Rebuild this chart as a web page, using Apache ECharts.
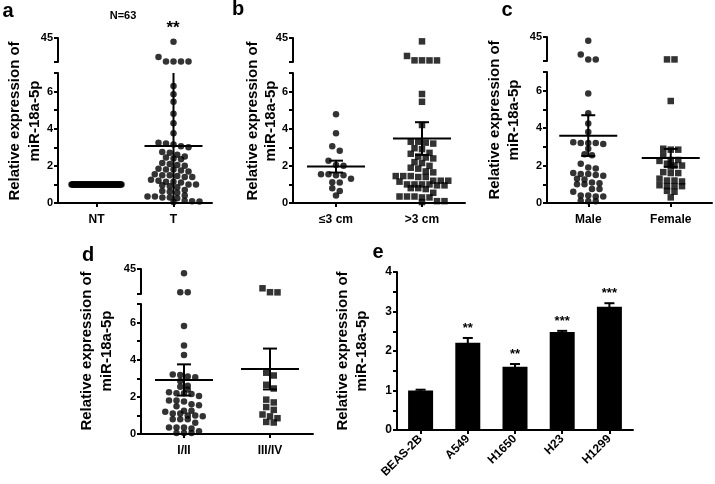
<!DOCTYPE html>
<html><head><meta charset="utf-8">
<script src="https://cdn.jsdelivr.net/npm/echarts@6/dist/echarts.min.js"></script>
<style>html,body{margin:0;padding:0;background:#fff}#c{width:715px;height:484px}</style>
</head><body><div id="c"></div>
<script>
// ---------------- data ----------------
const aCategories = ['NT', 'T'];
const aNT = [1,1,1,1,1,1,1,1,1,1,1,1,1,1,1,1,1,1,1,1,1,1,1,1,1,1,1,1,1,1,1,1,1,1,1,1,1,1,1,1,1,1,1,1,1,1,1,1,1,1,1,1,1,1,1,1,1,1,1,1,1,1,1];
const aT = [39.5, 17.2, 10.9, 10.8, 10.7, 10.8,
  6.3, 5.85, 5.45, 4.8, 4.3, 3.75,
  3.25, 3.2, 3.15, 3.05, 3.0, 2.75, 2.7, 2.6, 2.5, 2.45, 2.4, 2.35, 2.15, 2.1, 2.05, 2.0,
  1.85, 1.8, 1.8, 1.75, 1.7, 1.55, 1.5, 1.5, 1.45, 1.4, 1.4, 1.25, 1.2, 1.15, 1.15, 1.1,
  1.0, 1.0, 0.95, 0.9, 0.85, 0.7, 0.65, 0.6, 0.55, 0.4, 0.35, 0.35, 0.3, 0.3, 0.25, 0.12, 0.1, 0.08, 0.05];
const aMean = [null, 3.07];
const aErr = [null, 4.8];

const bCategories = ['≤3 cm', '>3 cm'];
const bSmall = [4.78, 3.75, 3.05, 2.82, 2.28, 2.05, 2.0, 1.55, 1.55, 1.5, 1.5, 1.3, 1.12, 1.1, 0.8, 0.65, 0.4];
const bLarge = [40.1, 18.8, 12.4, 12.3, 12.3, 12.4, 5.87, 5.45, 4.2, 3.3, 3.25, 3.2, 3.3, 2.95, 2.9, 2.7, 2.65,
  2.5, 2.45, 2.4, 2.2, 2.15, 2.0, 1.9, 1.85, 1.7, 1.65, 1.45, 1.45, 1.4, 1.4, 1.45, 1.2, 1.2, 1.15, 1.2,
  1.0, 1.0, 0.95, 1.0, 0.95, 1.0, 0.8, 0.8, 0.75, 0.55, 0.35, 0.35, 0.3, 0.35, 0.3, 0.1, 0.05, 0.1];
const bMean = [1.96, 3.47];
const bErr = [0.32, 0.88];

const cCategories = ['Male', 'Female'];
const cMale = [39.4, 19.3, 12.3, 12.3, 5.85, 4.8, 4.25, 3.8, 3.2, 3.2, 3.15, 3.2, 3.25, 2.9, 2.6, 2.55, 2.1,
  1.9, 1.85, 1.6, 1.55, 1.55, 1.5, 1.45, 1.3, 1.25, 1.1, 1.05, 1.0, 1.0, 0.75, 0.75, 0.6, 0.4, 0.4, 0.35, 0.35, 0.12, 0.1, 0.1];
const cFemale = [12.3, 12.3, 5.45, 2.9, 2.85, 2.85, 2.55, 2.3, 2.25, 2.3, 2.1, 2.0, 2.0, 1.95, 1.65, 1.6, 1.6,
  1.3, 1.2, 1.2, 1.15, 0.95, 0.9, 0.9, 0.9, 0.65, 0.6, 0.3];
const cMean = [3.6, 2.41];
const cErr = [1.09, 0.48];

const dCategories = ['I/II', 'III/IV'];
const dEarly = [39, 12.5, 12.3, 5.82, 4.76, 4.25, 3.2, 3.18, 3.05, 3.1, 2.85, 2.6, 2.55, 2.4, 2.25, 2.2, 2.2, 2.15,
  2.05, 1.8, 1.8, 1.75, 1.6, 1.55, 1.5, 1.25, 1.25, 1.2, 1.1, 1.1, 1.0, 1.0, 0.95, 0.8, 0.8, 0.8, 0.6,
  0.35, 0.35, 0.35, 0.3, 0.15, 0.05, 0.05, 0.05];
const dLate = [18, 12.5, 12.3, 3.3, 3.15, 2.65, 2.45, 1.85, 1.7, 1.45, 1.3, 1.05, 0.95, 0.85, 0.65, 0.62];
const dMean = [2.91, 3.5];
const dErr = [0.84, 1.1];

const lowerTickLabels = [0, 2, 4, 6];
const upperTickLabels = [45];

const eCategories = ['BEAS-2B', 'A549', 'H1650', 'H23', 'H1299'];
const eValues = [1.0, 2.21, 1.6, 2.48, 3.12];
const eErrors = [0.02, 0.12, 0.07, 0.03, 0.09];
const eSig = ['', '**', '**', '***', '***'];
const eTickLabels = [0, 1, 2, 3, 4];

// ---------------- layout / style ----------------
const FONT = "'Liberation Sans', Arial, sans-serif";
const BLACK = '#000';
const LOW_MAX = 7, UP_MIN = 10, UP_MAX = 45;
const DOT = 6.5, STEP = 7.5;

const panels = [
  {cats: aCategories, groups: [aNT, aT], symbols: ['circle', 'circle'], mean: aMean, err: aErr, maxHalf: [25, 26],
   L: {left: 58, width: 154, upTop: 38, upH: 24, lowTop: 73, lowH: 130}},
  {cats: bCategories, groups: [bSmall, bLarge], symbols: ['circle', 'rect'], mean: bMean, err: bErr, maxHalf: [28, 34],
   L: {left: 293, width: 172, upTop: 38, upH: 24, lowTop: 73, lowH: 130}},
  {cats: cCategories, groups: [cMale, cFemale], symbols: ['circle', 'rect'], mean: cMean, err: cErr, maxHalf: [34, 34],
   L: {left: 547, width: 165, upTop: 37, upH: 24, lowTop: 72, lowH: 131}},
  {cats: dCategories, groups: [dEarly, dLate], symbols: ['circle', 'rect'], mean: dMean, err: dErr, maxHalf: [34, 34],
   L: {left: 141, width: 172, upTop: 269, upH: 25, lowTop: 304, lowH: 130}}
];

// beeswarm: group close values into rows and spread them horizontally (pixel offsets)
function swarm(vals, pxPerY, maxHalf) {
  const sorted = vals.slice().sort((a, b) => b - a);
  const thr = 0.8 * DOT / pxPerY;
  const out = [];
  let i = 0;
  while (i < sorted.length) {
    const row = [sorted[i]];
    let j = i + 1;
    while (j < sorted.length && sorted[i] - sorted[j] < thr) { row.push(sorted[j]); j++; }
    const n = row.length;
    let s = STEP;
    if (n > 1 && (n - 1) / 2 * s > maxHalf) s = 2 * maxHalf / (n - 1);
    row.forEach((v, k) => out.push([(k - (n - 1) / 2) * s, v]));
    i = j;
  }
  return out;
}

const axisLineStyle = {color: BLACK, width: 2};
const labelStyle = {color: BLACK, fontFamily: FONT, fontWeight: 'bold', fontSize: 11};

const grid = [], xAxis = [], yAxis = [], series = [];

panels.forEach((p, pi) => {
  const L = p.L;
  const up = grid.length, low = up + 1;
  grid.push({left: L.left, top: L.upTop, width: L.width, height: L.upH});
  grid.push({left: L.left, top: L.lowTop, width: L.width, height: L.lowH});
  xAxis.push({gridIndex: up, type: 'value', min: -0.5, max: 1.5, show: false});
  yAxis.push({gridIndex: up, type: 'value', min: UP_MIN, max: UP_MAX, interval: UP_MAX - UP_MIN,
    axisLine: {show: true, onZero: false, lineStyle: axisLineStyle},
    axisTick: {show: true, length: 4, lineStyle: {color: BLACK, width: 2}},
    axisLabel: Object.assign({margin: 5, formatter: v => upperTickLabels.includes(v) ? String(v) : ''}, labelStyle),
    splitLine: {show: false}});
  xAxis.push({gridIndex: low, type: 'value', min: -0.5, max: 1.5, interval: 0.5,
    axisLine: {show: true, onZero: false, lineStyle: axisLineStyle},
    axisTick: {show: true, length: 4, customValues: [0, 1], lineStyle: {color: BLACK, width: 2}},
    axisLabel: Object.assign({}, labelStyle, {fontSize: 12, margin: 11, customValues: [0, 1],
      formatter: v => (p.cats[v] !== undefined ? p.cats[v] : '')}),
    splitLine: {show: false}});
  yAxis.push({gridIndex: low, type: 'value', min: 0, max: LOW_MAX, interval: 1,
    axisLine: {show: true, onZero: false, lineStyle: axisLineStyle},
    axisTick: {show: true, length: 4, lineStyle: {color: BLACK, width: 2}},
    axisLabel: Object.assign({margin: 5, formatter: v => lowerTickLabels.includes(v) ? String(v) : ''}, labelStyle),
    splitLine: {show: false}});

  const xUnitPerPx = 2 / L.width;
  const pxLow = L.lowH / LOW_MAX, pxUp = L.upH / (UP_MAX - UP_MIN);
  p.groups.forEach((vals, gi) => {
    const lowVals = vals.filter(v => v <= LOW_MAX);
    const upVals = vals.filter(v => v > LOW_MAX);
    const lowPts = swarm(lowVals, pxLow, p.maxHalf[gi]).map(([dx, v]) => [gi + dx * xUnitPerPx, v]);
    const upPts = swarm(upVals.map(v => v - UP_MIN), pxUp, p.maxHalf[gi]).map(([dx, v]) => [gi + dx * xUnitPerPx, v + UP_MIN]);
    const common = {type: 'scatter', symbol: p.symbols[gi], symbolSize: DOT, itemStyle: {color: BLACK}, z: 2, clip: false, silent: true};
    series.push(Object.assign({xAxisIndex: low, yAxisIndex: low, data: lowPts}, common));
    if (upPts.length) series.push(Object.assign({xAxisIndex: up, yAxisIndex: up, data: upPts}, common));
  });

  const stats = [];
  p.mean.forEach((m, i) => { if (m !== null) stats.push([i, m, p.err[i]]); });
  series.push({
    type: 'custom', xAxisIndex: low, yAxisIndex: low, z: 3, silent: true, data: stats,
    renderItem: (params, api) => {
      const x = api.value(0), m = api.value(1), e = api.value(2);
      const c = api.coord([x, m]);
      const hiV = Math.min(LOW_MAX, m + e), loV = Math.max(0, m - e);
      const hi = api.coord([x, hiV]), lo = api.coord([x, loV]);
      const st = {stroke: BLACK, lineWidth: 2};
      const ch = [
        {type: 'line', shape: {x1: c[0] - 29, y1: c[1], x2: c[0] + 29, y2: c[1]}, style: st},
        {type: 'line', shape: {x1: hi[0], y1: hi[1], x2: lo[0], y2: lo[1]}, style: st}
      ];
      if (m + e <= LOW_MAX) ch.push({type: 'line', shape: {x1: hi[0] - 7, y1: hi[1], x2: hi[0] + 7, y2: hi[1]}, style: st});
      if (m - e >= 0) ch.push({type: 'line', shape: {x1: lo[0] - 7, y1: lo[1], x2: lo[0] + 7, y2: lo[1]}, style: st});
      return {type: 'group', children: ch};
    }
  });
});

// panel e
const eg = grid.length;
grid.push({left: 397, top: 272, width: 236, height: 158});
xAxis.push({gridIndex: eg, type: 'category', data: eCategories,
  axisLine: {show: true, lineStyle: axisLineStyle},
  axisTick: {show: true, alignWithLabel: true, length: 4, lineStyle: {color: BLACK, width: 2}},
  axisLabel: Object.assign({}, labelStyle, {fontSize: 12, rotate: 45, interval: 0, margin: 7})});
yAxis.push({gridIndex: eg, type: 'value', min: 0, max: 4, interval: 0.5,
  axisLine: {show: true, lineStyle: axisLineStyle},
  axisTick: {show: true, length: 4, lineStyle: {color: BLACK, width: 2}},
  axisLabel: Object.assign({margin: 5, formatter: v => eTickLabels.includes(v) ? String(v) : ''}, labelStyle, {fontSize: 12}),
  splitLine: {show: false}});
series.push({type: 'bar', xAxisIndex: eg, yAxisIndex: eg, data: eValues, barWidth: 25, itemStyle: {color: BLACK}, silent: true});
series.push({
  type: 'custom', xAxisIndex: eg, yAxisIndex: eg, z: 3, silent: true,
  data: eValues.map((v, i) => [i, v, eErrors[i]]),
  renderItem: (params, api) => {
    const i = api.value(0), v = api.value(1), e = api.value(2);
    const top = api.coord([i, v + e]), bot = api.coord([i, v - e]);
    const st = {stroke: BLACK, lineWidth: 2};
    return {type: 'group', children: [
      {type: 'line', shape: {x1: top[0], y1: top[1], x2: bot[0], y2: bot[1]}, style: st},
      {type: 'line', shape: {x1: top[0] - 5, y1: top[1], x2: top[0] + 5, y2: top[1]}, style: st},
      {type: 'text', x: top[0], y: top[1] - 3, style: {text: eSig[params.dataIndex], fill: BLACK,
        font: 'bold 13px ' + FONT, textAlign: 'center', textVerticalAlign: 'bottom'}}
    ]};
  }
});

// texts
function ytitle(x1, x2, cy) {
  return [
    {type: 'text', x: x1, y: cy, rotation: Math.PI / 2, style: {text: 'Relative expression of', fill: BLACK,
      font: 'bold 15px ' + FONT, textAlign: 'center', textVerticalAlign: 'middle'}},
    {type: 'text', x: x2, y: cy, rotation: Math.PI / 2, style: {text: 'miR-18a-5p', fill: BLACK,
      font: 'bold 15px ' + FONT, textAlign: 'center', textVerticalAlign: 'middle'}}
  ];
}
function letter(t, x, y) {
  return {type: 'text', x: x, y: y, style: {text: t, fill: BLACK, font: 'bold 20px ' + FONT, textAlign: 'center', textVerticalAlign: 'middle'}};
}
const graphic = [].concat(
  ytitle(15, 35, 121), ytitle(253, 271, 121), ytitle(495, 514, 120), ytitle(87, 107, 351), ytitle(343, 362, 351),
  [letter('a', 8, 11), letter('b', 238, 9), letter('c', 507, 10), letter('d', 88, 255), letter('e', 378, 252),
   {type: 'text', x: 123, y: 16, style: {text: 'N=63', fill: BLACK, font: 'bold 11px ' + FONT, textAlign: 'center', textVerticalAlign: 'middle'}},
   {type: 'text', x: 173, y: 28, style: {text: '**', fill: BLACK, font: 'bold 17px ' + FONT, textAlign: 'center', textVerticalAlign: 'middle'}}]
);

const chart = echarts.init(document.getElementById('c'), null, {renderer: 'canvas'});
chart.setOption({animation: false, backgroundColor: '#fff', grid, xAxis, yAxis, series, graphic});
</script></body></html>
